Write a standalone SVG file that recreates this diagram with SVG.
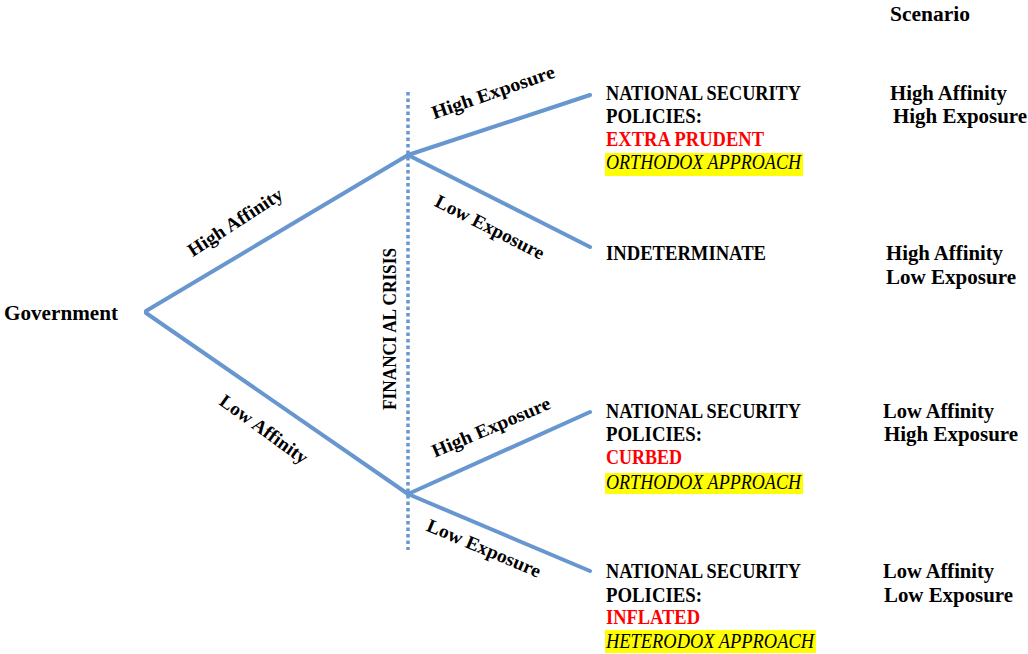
<svg xmlns="http://www.w3.org/2000/svg" width="1028" height="654" viewBox="0 0 1028 654">
<style>
text{font-family:"Liberation Serif","DejaVu Serif",serif;font-size:20px;font-weight:bold;fill:#000}
.lbl{font-size:19px;dominant-baseline:central;text-anchor:middle}
.red{fill:#ff0000}
.it{font-style:italic;font-weight:normal}
.hl{fill:#ffff00}
.br{fill:none;stroke:#6897cf;stroke-width:4;stroke-linecap:round;stroke-linejoin:round}
.dot{fill:none;stroke:#6897cf;stroke-width:3.5;stroke-dasharray:3.5 3}
</style>
<rect width="1028" height="654" fill="#fff"/>
<g id="connectors">
<line class="dot" x1="408" y1="92" x2="408" y2="550"/>
<polyline class="br" points="590,95 408,155 146,311"/>
<line class="br" x1="408" y1="155" x2="590" y2="247"/>
<polyline class="br" points="146,313 408,494 590,412"/>
<line class="br" x1="408" y1="494" x2="590" y2="571"/>
</g>
<g id="edge-labels">
<text class="lbl" transform="translate(235,222) rotate(-33)" textLength="109" lengthAdjust="spacingAndGlyphs">High Affinity</text>
<text class="lbl" transform="translate(264,429) rotate(36)" textLength="104" lengthAdjust="spacingAndGlyphs">Low Affinity</text>
<text class="lbl" transform="translate(493,92) rotate(-19)" textLength="129" lengthAdjust="spacingAndGlyphs">High Exposure</text>
<text class="lbl" transform="translate(490,227) rotate(27)" textLength="120" lengthAdjust="spacingAndGlyphs">Low Exposure</text>
<text class="lbl" transform="translate(491,427) rotate(-23)" textLength="127" lengthAdjust="spacingAndGlyphs">High Exposure</text>
<text class="lbl" transform="translate(484,548) rotate(23)" textLength="122" lengthAdjust="spacingAndGlyphs">Low Exposure</text>
<text class="lbl" transform="translate(389,329) rotate(-90)" textLength="162" lengthAdjust="spacingAndGlyphs">FINANCI AL CRISIS</text>
</g>
<g id="government">
<text x="4" y="320" textLength="114" lengthAdjust="spacingAndGlyphs">Government</text>
</g>
<g id="scenario-header">
<text x="890" y="21" textLength="80" lengthAdjust="spacingAndGlyphs">Scenario</text>
</g>
<g id="outcome-1">
<rect class="hl" x="605" y="153" width="198" height="23"/>
<text x="606" y="100" textLength="195" lengthAdjust="spacingAndGlyphs">NATIONAL SECURITY</text>
<text x="606" y="123" textLength="96" lengthAdjust="spacingAndGlyphs">POLICIES:</text>
<text class="red" x="606" y="146" textLength="158" lengthAdjust="spacingAndGlyphs">EXTRA PRUDENT</text>
<text class="it" x="606" y="169" textLength="195" lengthAdjust="spacingAndGlyphs">ORTHODOX APPROACH</text>
</g>
<g id="scenario-1">
<text x="890" y="100" textLength="117" lengthAdjust="spacingAndGlyphs">High Affinity</text>
<text x="893" y="123" textLength="134" lengthAdjust="spacingAndGlyphs">High Exposure</text>
</g>
<g id="outcome-2">
<text x="606" y="260" textLength="160" lengthAdjust="spacingAndGlyphs">INDETERMINATE</text>
</g>
<g id="scenario-2">
<text x="886" y="260" textLength="117" lengthAdjust="spacingAndGlyphs">High Affinity</text>
<text x="886" y="284" textLength="130" lengthAdjust="spacingAndGlyphs">Low Exposure</text>
</g>
<g id="outcome-3">
<rect class="hl" x="605" y="473" width="198" height="21"/>
<text x="606" y="418" textLength="195" lengthAdjust="spacingAndGlyphs">NATIONAL SECURITY</text>
<text x="606" y="441" textLength="96" lengthAdjust="spacingAndGlyphs">POLICIES:</text>
<text class="red" x="606" y="464" textLength="76" lengthAdjust="spacingAndGlyphs">CURBED</text>
<text class="it" x="606" y="489" textLength="195" lengthAdjust="spacingAndGlyphs">ORTHODOX APPROACH</text>
</g>
<g id="scenario-3">
<text x="883" y="418" textLength="111" lengthAdjust="spacingAndGlyphs">Low Affinity</text>
<text x="884" y="441" textLength="134" lengthAdjust="spacingAndGlyphs">High Exposure</text>
</g>
<g id="outcome-4">
<rect class="hl" x="605" y="630" width="211" height="23"/>
<text x="606" y="578" textLength="195" lengthAdjust="spacingAndGlyphs">NATIONAL SECURITY</text>
<text x="606" y="602" textLength="96" lengthAdjust="spacingAndGlyphs">POLICIES:</text>
<text class="red" x="606" y="624" textLength="94" lengthAdjust="spacingAndGlyphs">INFLATED</text>
<text class="it" x="606" y="648" textLength="208" lengthAdjust="spacingAndGlyphs">HETERODOX APPROACH</text>
</g>
<g id="scenario-4">
<text x="883" y="578" textLength="111" lengthAdjust="spacingAndGlyphs">Low Affinity</text>
<text x="884" y="602" textLength="129" lengthAdjust="spacingAndGlyphs">Low Exposure</text>
</g>
</svg>
